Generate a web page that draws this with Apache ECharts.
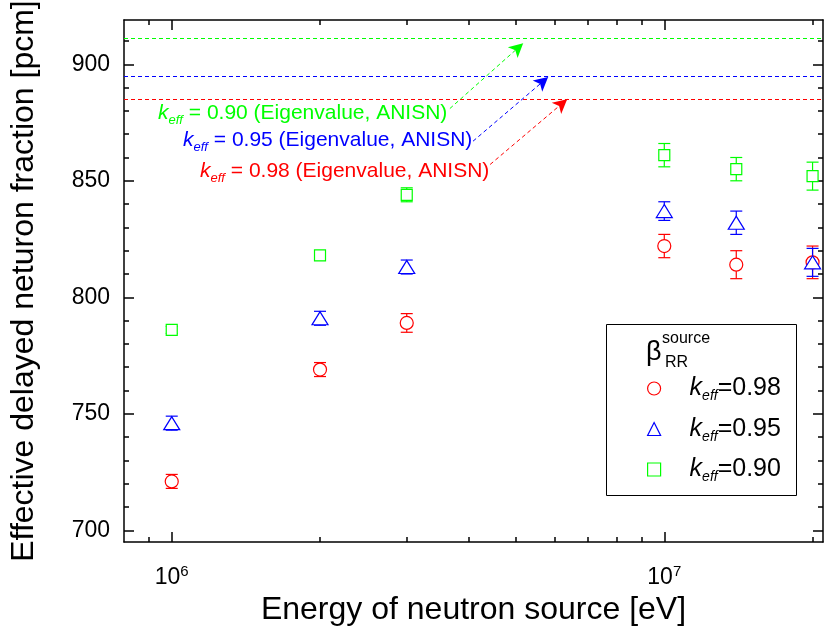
<!DOCTYPE html>
<html><head><meta charset="utf-8">
<script src="https://cdn.jsdelivr.net/npm/echarts@6/dist/echarts.min.js"></script>
<style>html,body{margin:0;padding:0;background:#fff}#c{width:827px;height:639px}</style>
</head><body><div id="c"></div>
<script>
// ---------- data ----------
const energies = [1e6, 2e6, 3e6, 1e7, 1.4e7, 2e7];
const beta098 = [721, 769, 789, 822, 814, 815];
const err098  = [3, 3, 4, 5, 6, 7];
const beta095 = [746, 791, 813, 837, 832, 815];
const err095  = [3, 3, 3, 4, 5, 6];
const beta090 = [786, 818, 844, 861, 855, 852];
const err090  = [1.5, 2, 3, 5, 5, 6];
const keffLabels = ['0.98', '0.95', '0.90'];
const eigenValues = [885, 895, 911];            // ANISN eigenvalue results
const arrowStart = [[4.43e6, 857], [4.09e6, 867], [3.67e6, 881]];
const arrowEnd   = [[6.35e6, 885], [5.81e6, 894.5], [5.17e6, 909]];
const annotationText = ['= 0.98 (Eigenvalue, ANISN)', '= 0.95 (Eigenvalue, ANISN)', '= 0.90 (Eigenvalue, ANISN)'];
const yMajorTicks = [700, 750, 800, 850, 900];
const yMinorTicks = [710, 720, 730, 740, 760, 770, 780, 790, 810, 820, 830, 840, 860, 870, 880, 890, 910];
const xMajorTicks = [1e6, 1e7];
const xMinorTicks = [9e5, 2e6, 3e6, 4e6, 5e6, 6e6, 7e6, 8e6, 9e6, 2e7];

// ---------- styling ----------
const FONT = 'Liberation Sans, Arial, Helvetica, sans-serif';
const colors = ['#ff0000', '#0000ff', '#00ff00'];
const symbols = ['circle', 'triangle', 'rect'];
const symbolSizes = [13, [16, 13], 11];
const valueSets = [beta098, beta095, beta090];
const errSets = [err098, err095, err090];

const X_MIN = 8e5, X_MAX = 2.1e7, Y_MIN = 695, Y_MAX = 919;

function xAxisDef(pos, ticks, len, showLine, showLabel, extra) {
  return Object.assign({
    type: 'log', logBase: 10, position: pos, min: X_MIN, max: X_MAX,
    axisLine: {show: showLine, onZero: false, lineStyle: {color: '#000', width: 1.5}},
    axisTick: {show: true, inside: true, length: len, customValues: ticks, lineStyle: {color: '#000', width: 1.5}},
    axisLabel: showLabel ? {
      customValues: ticks, margin: 22, color: '#000', fontFamily: FONT,
      formatter: v => '{b|10}{s|' + Math.round(Math.log10(v)) + '}',
      rich: {b: {fontSize: 23, fontFamily: FONT, color: '#000', lineHeight: 28},
             s: {fontSize: 15, fontFamily: FONT, color: '#000', verticalAlign: 'top', lineHeight: 14}}
    } : {show: false},
    splitLine: {show: false}, minorTick: {show: false}
  }, extra || {});
}
function yAxisDef(pos, ticks, len, showLine, showLabel, extra) {
  return Object.assign({
    type: 'value', position: pos, min: Y_MIN, max: Y_MAX,
    axisLine: {show: showLine, onZero: false, lineStyle: {color: '#000', width: 1.5}},
    axisTick: {show: true, inside: true, length: len, customValues: ticks, lineStyle: {color: '#000', width: 1.5}},
    axisLabel: showLabel ? {customValues: ticks, margin: 14, color: '#000', fontSize: 23, fontFamily: FONT} : {show: false},
    splitLine: {show: false}, minorTick: {show: false}
  }, extra || {});
}

function errRender(params, api) {
  const x = api.value(0), lo = api.value(1), hi = api.value(2);
  const pLo = api.coord([x, lo]), pHi = api.coord([x, hi]);
  const c = 6;
  const style = {stroke: api.visual('color'), lineWidth: 1.2, fill: null};
  return {type: 'group', children: [
    {type: 'line', shape: {x1: pLo[0], y1: pLo[1], x2: pHi[0], y2: pHi[1]}, style: style},
    {type: 'line', shape: {x1: pLo[0] - c, y1: pLo[1], x2: pLo[0] + c, y2: pLo[1]}, style: style},
    {type: 'line', shape: {x1: pHi[0] - c, y1: pHi[1], x2: pHi[0] + c, y2: pHi[1]}, style: style}
  ]};
}

const series = [];
keffLabels.forEach((k, i) => {
  series.push({
    name: k + '_err', type: 'custom', renderItem: errRender, z: 2,
    itemStyle: {color: colors[i]}, silent: true,
    encode: {x: 0, y: [1, 2]},
    data: energies.map((e, j) => [e, valueSets[i][j] - errSets[i][j], valueSets[i][j] + errSets[i][j]])
  });
});
keffLabels.forEach((k, i) => {
  series.push({
    name: k, type: 'scatter', z: 3 + i,
    symbol: symbols[i], symbolSize: symbolSizes[i],
    itemStyle: {color: '#fff', borderColor: colors[i], borderWidth: 1.2, opacity: 1},
    data: energies.map((e, j) => [e, valueSets[i][j]]),
    markLine: {
      silent: true, symbol: ['none', 'none'], animation: false,
      label: {show: false},
      lineStyle: {color: colors[i], type: [4, 3], width: 1},
      data: [
        {yAxis: eigenValues[i]},
        [{coord: arrowStart[i], symbol: 'none'}, {coord: arrowEnd[i], symbol: 'arrow', symbolSize: [11, 14]}]
      ]
    }
  });
});

const richLegend = {
  k: {fontSize: 25, fontStyle: 'italic', fontFamily: FONT, color: '#000', lineHeight: 30, padding: [0, 0, 0, 24]},
  e: {fontSize: 14, fontStyle: 'italic', fontFamily: FONT, color: '#000', lineHeight: 15, verticalAlign: 'bottom'},
  v: {fontSize: 25, fontFamily: FONT, color: '#000', lineHeight: 30}
};

function annRich(col) {
  return {
    k: {fontSize: 21, fontStyle: 'italic', fontFamily: FONT, fill: col, lineHeight: 28},
    e: {fontSize: 13, fontStyle: 'italic', fontFamily: FONT, fill: col, lineHeight: 13, verticalAlign: 'bottom'},
    t: {fontSize: 21, fontFamily: FONT, fill: col, lineHeight: 28}
  };
}
const annPos = [[200, 171], [183, 140], [158, 113]];
const graphics = [
  {type: 'rect', left: 606, top: 324, shape: {width: 190, height: 171}, style: {fill: '#fff', stroke: '#000', lineWidth: 1}, z: 10},
  {type: 'text', left: 646, top: 339, style: {text: 'β', fontSize: 27, fontFamily: FONT, fill: '#000'}, z: 11},
  {type: 'text', left: 662, top: 331, style: {text: 'source', fontSize: 16, fontFamily: FONT, fill: '#000'}, z: 11},
  {type: 'text', left: 665, top: 355, style: {text: 'RR', fontSize: 16, fontFamily: FONT, fill: '#000'}, z: 11}
];
keffLabels.forEach((k, i) => {
  graphics.push({
    type: 'text', x: annPos[i][0], y: annPos[i][1], z: 11,
    style: {
      text: '{k|k}{e|eff}{t| ' + annotationText[i] + '}',
      rich: annRich(colors[i]), verticalAlign: 'middle', align: 'left'
    }
  });
});

const chart = echarts.init(document.getElementById('c'), null, {renderer: 'canvas'});
chart.setOption({
  animation: false,
  backgroundColor: '#fff',
  textStyle: {fontFamily: FONT},
  grid: {left: 124, right: 4, top: 20, bottom: 97, containLabel: false, outerBoundsMode: 'none'},
  xAxis: [
    xAxisDef('bottom', xMajorTicks, 10, true, true, {
      name: 'Energy of neutron source [eV]', nameLocation: 'middle', nameGap: 47,
      nameTextStyle: {fontSize: 32, fontFamily: FONT, color: '#000'}
    }),
    xAxisDef('bottom', xMinorTicks, 5, false, false),
    xAxisDef('top', xMajorTicks, 10, true, false),
    xAxisDef('top', xMinorTicks, 5, false, false)
  ],
  yAxis: [
    yAxisDef('left', yMajorTicks, 10, true, true, {
      name: 'Effective delayed neturon fraction [pcm]', nameLocation: 'middle', nameGap: 84,
      nameTextStyle: {fontSize: 32, fontFamily: FONT, color: '#000'}
    }),
    yAxisDef('left', yMinorTicks, 5, false, false),
    yAxisDef('right', yMajorTicks, 10, true, false),
    yAxisDef('right', yMinorTicks, 5, false, false)
  ],
  legend: {
    orient: 'vertical', left: 642, top: 371, itemWidth: 13, itemHeight: 13, itemGap: 13, z: 12,
    selectedMode: false,
    data: keffLabels.map((k, i) => ({name: k, icon: symbols[i],
      itemStyle: {color: '#fff', borderColor: colors[i], borderWidth: 1.2}})),
    formatter: name => '{k|k}{e|eff}{v|=' + name + '}',
    textStyle: {rich: richLegend}
  },
  graphic: graphics,
  series: series
});
</script></body></html>
